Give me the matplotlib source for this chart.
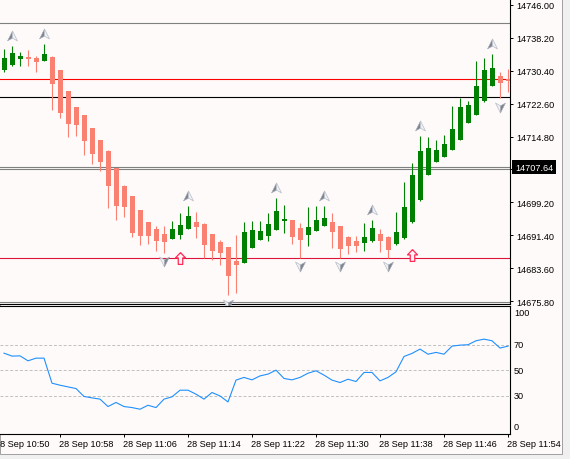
import matplotlib
matplotlib.use('Agg')
import matplotlib.pyplot as plt
import matplotlib.transforms as mtransforms
from matplotlib.path import Path
from matplotlib.patches import Rectangle
import numpy as np
import pandas as pd

plt.rcParams['font.family'] = ['Liberation Sans', 'DejaVu Sans']
plt.rcParams['font.size'] = 6.6

# one-minute bars from 28 Sep 10:51
bar_start = pd.Timestamp('2023-09-28 10:51')

opens = [14730.6, 14731.8, 14733.2, 14733.7, 14733.4, 14732.7, 14733.7, 14730.6,
         14725.6, 14721.8, 14719.9, 14716.8, 14714.0, 14711.4, 14707.3, 14703.1,
         14700.7, 14697.4, 14694.5, 14692.9, 14691.7, 14690.5, 14691.5, 14692.9,
         14694.5, 14694.1, 14691.7, 14689.8, 14688.6, 14685.3, 14684.8, 14688.4,
         14690.3, 14691.2, 14692.6, 14694.8, 14695.0, 14693.1, 14691.5, 14692.4,
         14693.6, 14694.5, 14693.6, 14691.0, 14690.0, 14689.6, 14690.0, 14691.7,
         14691.0, 14689.3, 14690.7, 14694.5, 14699.8, 14705.7, 14708.8, 14710.0,
         14711.6, 14714.0, 14718.0, 14719.9, 14723.2, 14726.8, 14729.2, 14728.5]
highs = [14735.6, 14736.3, 14734.9, 14735.3, 14733.9, 14736.8, 14733.9, 14730.7,
         14725.7, 14721.9, 14720.0, 14716.9, 14714.1, 14711.5, 14707.4, 14703.2,
         14700.8, 14697.5, 14694.6, 14693.6, 14693.6, 14694.8, 14696.7, 14698.3,
         14696.9, 14694.2, 14691.8, 14690.3, 14688.7, 14691.5, 14694.5, 14694.8,
         14694.8, 14696.7, 14700.2, 14698.6, 14695.1, 14694.3, 14698.1, 14698.3,
         14698.3, 14696.7, 14693.7, 14691.1, 14691.2, 14694.3, 14695.0, 14692.9,
         14691.1, 14696.9, 14704.0, 14708.5, 14714.9, 14714.7, 14714.0, 14715.2,
         14722.0, 14723.9, 14723.2, 14732.7, 14733.4, 14734.4, 14730.1, 14730.8]
lows = [14730.1, 14731.6, 14731.5, 14731.5, 14730.1, 14732.6, 14721.1, 14719.2,
        14714.7, 14714.9, 14710.4, 14708.3, 14706.6, 14697.9, 14695.0, 14695.7,
        14691.0, 14689.1, 14689.3, 14687.7, 14687.2, 14690.4, 14690.5, 14692.8,
        14690.7, 14686.0, 14685.5, 14684.3, 14677.2, 14677.7, 14684.7, 14688.3,
        14690.2, 14690.0, 14692.6, 14691.9, 14689.3, 14686.0, 14688.8, 14692.3,
        14693.5, 14688.4, 14686.0, 14686.9, 14687.4, 14687.7, 14689.9, 14687.4,
        14686.0, 14689.2, 14690.6, 14694.4, 14699.6, 14705.6, 14708.7, 14709.9,
        14711.5, 14713.9, 14717.9, 14719.8, 14723.1, 14726.7, 14723.9, 14725.4]
closes = [14733.4, 14734.6, 14733.9, 14733.2, 14732.5, 14734.4, 14727.3, 14720.4,
          14717.8, 14717.5, 14713.7, 14710.7, 14708.8, 14703.1, 14698.3, 14698.1,
          14691.9, 14691.2, 14691.2, 14690.0, 14689.8, 14692.9, 14693.8, 14696.0,
          14693.4, 14689.1, 14687.7, 14687.2, 14681.7, 14684.3, 14692.2, 14692.6,
          14692.4, 14694.1, 14697.1, 14695.2, 14691.0, 14690.3, 14693.4, 14695.0,
          14695.5, 14692.2, 14688.1, 14688.8, 14688.8, 14691.0, 14693.1, 14690.0,
          14687.9, 14692.2, 14698.1, 14705.7, 14711.4, 14712.1, 14711.6, 14713.0,
          14716.6, 14721.8, 14722.3, 14726.8, 14730.6, 14731.1, 14727.5, 14728.0]

# oscillator in the lower window
osc = [63.3, 61.0, 61.2, 57.3, 59.4, 59.4, 39.8, 38.2, 36.9, 35.6, 29.4, 28.3,
       27.3, 21.5, 24.7, 21.5, 20.7, 19.4, 22.5, 20.7, 27.3, 29.1, 34.3, 34.3,
       31.2, 27.3, 32.5, 29.8, 25.1, 42.2, 44.3, 42.4, 45.5, 46.9, 50.0, 43.5,
       42.4, 44.3, 47.6, 49.5, 46.1, 42.2, 40.3, 42.9, 41.1, 48.2, 48.2, 41.6,
       44.3, 48.7, 60.7, 63.1, 66.5, 62.5, 63.9, 62.5, 68.8, 69.6, 69.9, 73.0,
       74.3, 73.0, 67.3, 68.8]
osc_levels = [30, 50, 70]
osc_labels = [0, 30, 50, 70, 100]

# fractal bars and signal arrows
up_fractals = [1, 5, 23, 34, 40, 46, 52, 61]
down_fractals = [20, 28, 37, 42, 48, 62]
signal_bars = [22, 51]
signal_prices = [14685.9, 14686.6]

# horizontal lines on the price chart
levels = [14741.66, 14728.38, 14724.11, 14707.64, 14707.00, 14685.93, 14675.63]
level_colors = ['#808080', '#ff0000', '#000000', '#808080', '#808080', '#dc143c', '#808080']
current_price = 14707.64

price_ticks = [14746.00, 14738.20, 14730.40, 14722.60, 14714.80, 14707.00,
               14699.20, 14691.40, 14683.60, 14675.80]
time_ticks = ['10:50', '10:58', '11:06', '11:14', '11:22', '11:30', '11:38', '11:46', '11:54']

BG = '#fffafa'
fig = plt.figure(figsize=(5.7, 4.6), dpi=100)
fig.patch.set_facecolor('#f0f0f0')
fig.patches.append(Rectangle((0, 5 / 460), 562 / 570, 455 / 460, transform=fig.transFigure,
                             facecolor=BG, edgecolor='#a0a0a0', linewidth=0.7, zorder=-10))

ax = fig.add_axes([0, 155 / 460, 510 / 570, 305 / 460])
ax2 = fig.add_axes([0, 25 / 460, 510 / 570, 127.7 / 460])

n = len(opens)
x = np.arange(n)
o = np.array(opens)
c = np.array(closes)
col = np.where(c >= o, '#008000', '#fa8072')

for lv, lc in zip(levels, level_colors):
    ax.axhline(lv, color=lc, lw=0.8, zorder=2)

ax.vlines(x, lows, highs, colors=col, lw=0.8, zorder=3)
ax.bar(x, np.maximum(np.abs(c - o), 0.3), bottom=np.minimum(o, c), width=0.625,
       color=col, linewidth=0, zorder=4)

# fractal arrowheads, drawn as two shaded halves
left_up = Path([(0, 1), (-0.9, -0.8), (0, -0.3), (0, 1)])
right_up = Path([(0, 1), (0.9, -0.8), (0, -0.3), (0, 1)])
left_dn = Path([(0, -1), (-0.9, 0.8), (0, 0.3), (0, -1)])
right_dn = Path([(0, -1), (0.9, 0.8), (0, 0.3), (0, -1)])
up_shift = ax.transData + mtransforms.ScaledTranslation(0, 0.10, fig.dpi_scale_trans)
dn_shift = ax.transData + mtransforms.ScaledTranslation(0, -0.085, fig.dpi_scale_trans)
uy = [highs[i] for i in up_fractals]
dy = [lows[i] for i in down_fractals]
ax.plot(up_fractals, uy, ls='none', marker=left_up, ms=8, mfc='#7f8590', mec='#a9aeb8',
        mew=0.4, transform=up_shift, zorder=5, clip_on=False)
ax.plot(up_fractals, uy, ls='none', marker=right_up, ms=8, mfc='#eef0f4', mec='#b8bdc6',
        mew=0.5, transform=up_shift, zorder=5, clip_on=False)
ax.plot(down_fractals, dy, ls='none', marker=left_dn, ms=8, mfc='#eef0f4', mec='#b8bdc6',
        mew=0.5, transform=dn_shift, zorder=5, clip_on=False)
ax.plot(down_fractals, dy, ls='none', marker=right_dn, ms=8, mfc='#7f8590', mec='#a9aeb8',
        mew=0.4, transform=dn_shift, zorder=5, clip_on=False)

# hollow signal arrows
block_up = Path([(0, 1), (0.85, 0.1), (0.38, 0.1), (0.38, -1), (-0.38, -1),
                 (-0.38, 0.1), (-0.85, 0.1), (0, 1)])
ax.plot(signal_bars, signal_prices, ls='none', marker=block_up, ms=8.5,
        mfc='#fff4f6', mec='#ff2a55', mew=0.9, zorder=5)

ax.set_xlim(-0.5, 63.25)
ax.set_ylim(14675.09, 14747.42)
ax.set_facecolor(BG)
for s in ['top', 'left']:
    ax.spines[s].set_visible(False)
for s in ['right', 'bottom']:
    ax.spines[s].set_linewidth(0.8)
ax.set_xticks([])
ax.yaxis.tick_right()
ax.set_yticks(price_ticks)
ax.set_yticklabels(['%.2f' % p for p in price_ticks])
ax.tick_params(axis='y', length=2.2, width=0.7, pad=2.6, labelsize=6.6)

# current price tag covers the 14707.00 label underneath
ax.annotate('%.2f' % current_price, xy=(1, current_price), xycoords=('axes fraction', 'data'),
            xytext=(5, -0.5), textcoords='offset pixels', ha='left', va='center',
            color='white', fontsize=6.6, annotation_clip=False, zorder=10,
            bbox=dict(boxstyle='square,pad=0.3', fc='black', ec='none'))

# lower window
ax2.plot(x, osc, color='#1e90ff', lw=0.8, zorder=3)
for lv in osc_levels:
    ax2.axhline(lv, color='#c0c0c0', lw=0.7, ls=(0, (3, 2)), zorder=2)
ax2.set_xlim(-0.5, 63.25)
ax2.set_ylim(0, 100)
ax2.set_facecolor(BG)
ax2.spines['left'].set_visible(False)
for s in ['top', 'right', 'bottom']:
    ax2.spines[s].set_linewidth(0.8)
ax2.set_yticks([])
for v in osc_labels:
    dy_off = -6.5 if v == 100 else (7 if v == 0 else 0)
    ax2.annotate(str(v), xy=(1, v), xycoords=('axes fraction', 'data'),
                 xytext=(4, dy_off), textcoords='offset pixels', ha='left', va='center',
                 fontsize=6.6, annotation_clip=False)

tick_idx = [(pd.Timestamp('2023-09-28 ' + t) - bar_start) / pd.Timedelta(minutes=1)
            for t in time_ticks]
ax2.set_xticks([t for t in tick_idx if t >= -0.5])
ax2.set_xticklabels([])
ax2.tick_params(axis='x', length=2.2, width=0.7)
for t, lbl in zip(tick_idx, time_ticks):
    ax2.annotate('28 Sep ' + lbl, xy=(t, 0), xycoords=('data', 'axes fraction'),
                 xytext=(-1, -10), textcoords='offset pixels', ha='left', va='center',
                 fontsize=6.6, annotation_clip=False)

fig.savefig('out.png', dpi=100, facecolor=fig.get_facecolor())
